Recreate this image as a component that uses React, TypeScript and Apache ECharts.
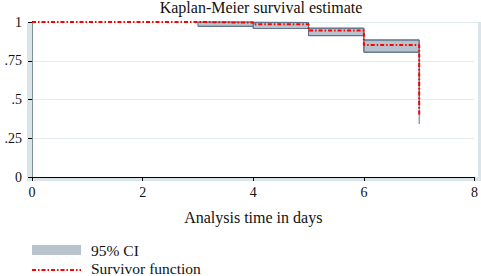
import React, { useEffect, useRef } from "react";
import * as echarts from "echarts";

const survTimes = [0, 3, 4, 5, 6, 7];
const survival = [1, 0.996, 0.985, 0.945, 0.852, 0.4];
const ciTimes = [3, 4, 5, 6, 7];
const ciLower = [0.972, 0.958, 0.912, 0.805, 0.342];
const ciUpper = [1.0, 0.997, 0.96, 0.884, 0.46];
const xTicks = [0, 2, 4, 6, 8];
const yTickLabels: Record<string, string> = { "0": "0", "0.25": ".25", "0.5": ".5", "0.75": ".75", "1": "1" };
const legendLabels = ["95% CI", "Survivor function"];

const FONT = "Liberation Serif";
const CI_FILL = "#b8c3ce";
const CI_LINE = "#5f7389";

export default function App() {
  const ref = useRef<HTMLDivElement>(null);
  useEffect(() => {
    if (!ref.current) return;
    const chart = echarts.init(ref.current, undefined, { renderer: "svg" });
    const segData = ciTimes.slice(0, -1).map((t, i) => [t, ciTimes[i + 1], ciLower[i], ciUpper[i]]);
    const lowerData = ciTimes.map((t, i) => [t, ciLower[i]]);
    const upperData = ciTimes.map((t, i) => [t, ciUpper[i]]);
    const survData = survTimes.map((t, i) => [t, survival[i]]);
    chart.setOption({
      animation: false,
      backgroundColor: "#ffffff",
      title: {
        text: "Kaplan-Meier survival estimate",
        left: 256,
        textAlign: "center",
        top: -6,
        textStyle: { fontFamily: FONT, fontSize: 16, fontWeight: "normal", color: "#111" },
      },
      graphic: [
        { type: "rect", z: -10, shape: { x: 27, y: 22, width: 454, height: 159 }, style: { fill: "#d9e5e9" } },
        { type: "rect", z: -9, shape: { x: 32, y: 23, width: 446, height: 154 }, style: { fill: "#ffffff" } },
        { type: "rect", shape: { x: 32, y: 245, width: 49, height: 10 }, style: { fill: CI_FILL } },
        {
          type: "text",
          x: 91,
          y: 250,
          style: { text: legendLabels[0], fontFamily: FONT, fontSize: 15.5, fill: "#111", verticalAlign: "middle" },
        },
        {
          type: "line",
          shape: { x1: 32, y1: 270, x2: 81, y2: 270 },
          style: { stroke: "#ff0000", lineWidth: 2, lineDash: [4, 2, 1.5, 2] },
        },
        {
          type: "text",
          x: 91,
          y: 268,
          style: { text: legendLabels[1], fontFamily: FONT, fontSize: 15.5, fill: "#111", verticalAlign: "middle" },
        },
      ],
      grid: { left: 32, right: 3, top: 22, bottom: 99 },
      xAxis: {
        type: "value",
        min: 0,
        max: 8,
        interval: 2,
        name: "Analysis time in days",
        nameLocation: "middle",
        nameGap: 32,
        nameTextStyle: { fontFamily: FONT, fontSize: 16, color: "#111" },
        axisLine: { show: true, lineStyle: { color: "#000", width: 1 } },
        axisTick: { show: true, length: 4, lineStyle: { color: "#000" } },
        axisLabel: {
          fontFamily: FONT,
          fontSize: 14,
          color: "#111",
          margin: 8,
          formatter: (v: number) => (xTicks.includes(v) ? String(v) : ""),
        },
        splitLine: { show: false },
      },
      yAxis: {
        type: "value",
        min: 0,
        max: 1,
        interval: 0.25,
        axisLine: { show: true, lineStyle: { color: "#7f8f96", width: 1 } },
        axisTick: { show: true, length: 4, lineStyle: { color: "#000" } },
        axisLabel: {
          fontFamily: FONT,
          fontSize: 14,
          color: "#111",
          margin: 10,
          formatter: (v: number) => yTickLabels[String(v)] ?? "",
        },
        splitLine: { show: true, lineStyle: { color: "#e4ecef", width: 1 } },
      },
      series: [
        {
          name: "95% CI",
          type: "custom",
          data: segData,
          z: 2,
          renderItem: (params: any, api: any) => {
            const p1 = api.coord([api.value(0), api.value(3)]);
            const p2 = api.coord([api.value(1), api.value(2)]);
            return {
              type: "rect",
              shape: { x: p1[0], y: p1[1], width: p2[0] - p1[0], height: p2[1] - p1[1] },
              style: { fill: CI_FILL, stroke: CI_LINE, lineWidth: 1 },
            };
          },
        },
        {
          name: "ciLowerLine",
          type: "line",
          step: "end",
          data: lowerData,
          symbol: "none",
          lineStyle: { color: CI_LINE, width: 1 },
          z: 2,
        },
        {
          name: "ciUpperLine",
          type: "line",
          step: "end",
          data: upperData,
          symbol: "none",
          lineStyle: { color: CI_LINE, width: 1 },
          z: 2,
        },
        {
          name: "Survivor function",
          type: "line",
          step: "end",
          data: survData,
          symbol: "none",
          lineStyle: { color: "#ff0000", width: 2, type: [4, 2, 1.5, 2] },
          itemStyle: { color: "#ff0000" },
          z: 3,
        },
      ],
    });
    return () => chart.dispose();
  }, []);
  return <div ref={ref} style={{ width: 481, height: 276, position: "absolute", left: 0, top: 0 }} />;
}
